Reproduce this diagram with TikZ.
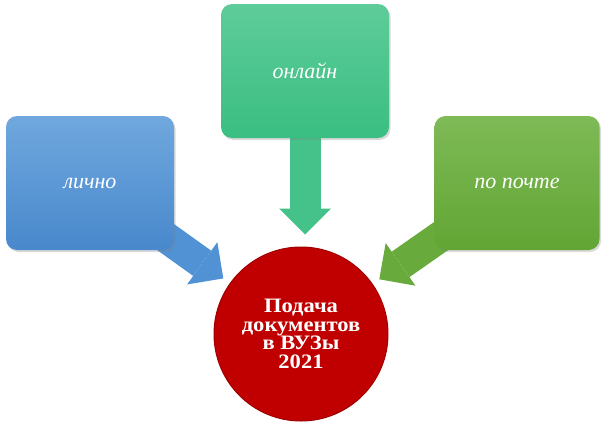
\documentclass[tikz,border=0pt]{standalone}
\usepackage{fontspec}
\setmainfont{Liberation Serif}
\newfontfamily\podachafont{Liberation Serif}[FakeStretch=1.1]
\usepackage{tikz}
\usetikzlibrary{arrows.meta,shadows,backgrounds}

\definecolor{lichnoTop}{RGB}{112,168,222}
\definecolor{lichnoBot}{RGB}{72,136,204}
\definecolor{lichnoArrow}{RGB}{80,146,212}
\definecolor{onlaynTop}{RGB}{94,204,154}
\definecolor{onlaynBot}{RGB}{58,190,129}
\definecolor{onlaynArrow}{RGB}{68,194,137}
\definecolor{pochtaTop}{RGB}{126,186,86}
\definecolor{pochtaBot}{RGB}{98,165,52}
\definecolor{pochtaArrow}{RGB}{104,171,60}
\definecolor{podachaFill}{RGB}{192,0,0}
\definecolor{podachaLine}{RGB}{160,0,0}

\begin{document}
\begin{tikzpicture}[x=1pt, y=-1pt,
		box/.style={rectangle, rounded corners=11pt, minimum width=168pt, minimum height=134pt, text=white,
			font=\itshape\fontsize{22}{24}\selectfont, drop shadow={opacity=0.3, shadow xshift=1.5pt, shadow yshift=-2pt}},
		flow/.style={line width=31pt, -{Triangle[length=26pt, width=52pt, line width=0pt]}}]
		\useasboundingbox (0,0) rectangle (610,431);
		%\node[box] (lichno) at (90,183) {};
		\node[box, top color=lichnoTop, bottom color=lichnoBot] (lichno) at (90,183) {лично};
		\node[box, top color=onlaynTop, bottom color=onlaynBot] (onlayn) at (305,71) {онлайн};
		\node[box, top color=pochtaTop, bottom color=pochtaBot, minimum width=165pt] (pochta) at (517,183) {по почте};
		\node[circle, minimum size=174pt, inner sep=0pt, fill=podachaFill, draw=podachaLine, line width=1pt, text=white,
			align=center, font=\podachafont\bfseries\fontsize{20.5}{18.6}\selectfont] (podacha) at (301,334) {Подача\\документов\\в ВУЗы\\2021};
		\begin{scope}[on background layer]
			\draw[flow, lichnoArrow, shorten >=8pt] (lichno.center) -- (podacha);
			\draw[flow, onlaynArrow, shorten >=12pt] (onlayn.center) -- (onlayn.center |- podacha.north);
			\draw[flow, pochtaArrow, shorten >=8pt] (pochta.center) -- (podacha);
		\end{scope}
	\end{tikzpicture}
\end{document}
